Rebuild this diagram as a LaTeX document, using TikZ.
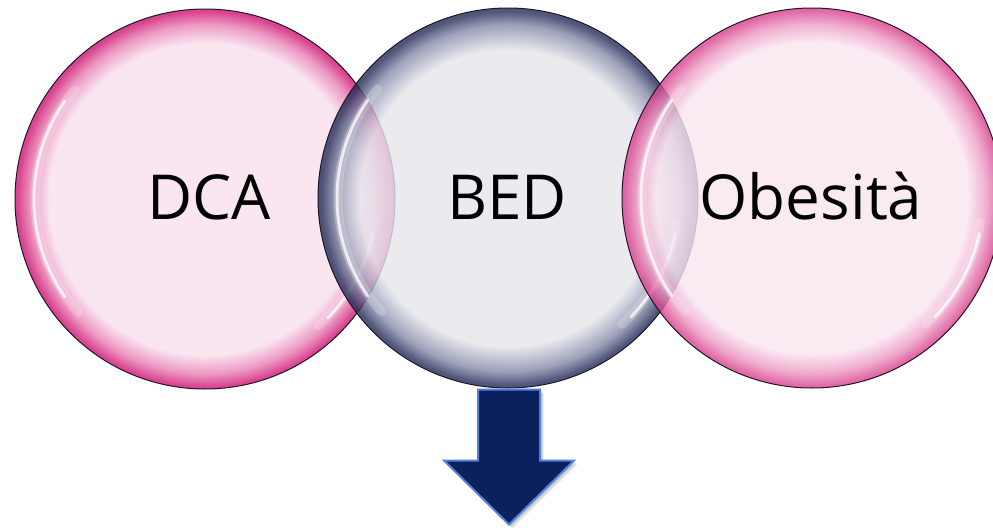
\documentclass[tikz,border=0pt]{standalone}
\usepackage{fontspec}
\setmainfont{Open Sans}
\usetikzlibrary{calc}

\definecolor{pinkin}{HTML}{F9E6F1}
\definecolor{pinkmid}{HTML}{EC98C2}
\definecolor{pinkrim}{HTML}{D9448F}
\definecolor{greyin}{HTML}{E5E5EB}
\definecolor{navymid}{HTML}{858AA8}
\definecolor{navyrim}{HTML}{242C58}
\definecolor{edgeline}{HTML}{1E1428}
\definecolor{arrowfill}{HTML}{0B205D}
\definecolor{arrowline}{HTML}{4F80E0}

% bubble shadings: flat centre, coloured rim
\pgfdeclareradialshading{pinkbubble}{\pgfpoint{0bp}{0bp}}{%
  color(0bp)=(pinkin); color(20.5bp)=(pinkin); color(23bp)=(pinkmid);
  color(24.7bp)=(pinkrim); color(25bp)=(pinkrim); color(50bp)=(pinkrim)}
\pgfdeclareradialshading{navybubble}{\pgfpoint{0bp}{0bp}}{%
  color(0bp)=(greyin); color(19.5bp)=(greyin); color(22.8bp)=(navymid);
  color(24.6bp)=(navyrim); color(25bp)=(navyrim); color(50bp)=(navyrim)}

\tikzset{
  bubble/.style={circle, minimum size=380pt, inner sep=0pt, draw=edgeline,
    line width=1pt, text opacity=1},
  pinkball/.style={bubble, shading=pinkbubble},
  navyball/.style={bubble, shading=navybubble},
  gloss/.style={white, line cap=round},
  label/.style={font=\fontsize{62}{70}\selectfont, anchor=base},
}

% glossy highlights inside a bubble (y axis points down, so angles are mirrored)
\newcommand{\glossarcs}[1]{%
  \draw[gloss, line width=9pt, opacity=0.22] ($(#1.center)+(-140:170)$) arc[start angle=-140, end angle=-222, radius=170];
  \draw[gloss, line width=3pt, opacity=0.75] ($(#1.center)+(-145:171)$) arc[start angle=-145, end angle=-215, radius=171];
  \draw[gloss, line width=9pt, opacity=0.22] ($(#1.center)+(8:170)$) arc[start angle=8, end angle=48, radius=170];
  \draw[gloss, line width=3pt, opacity=0.75] ($(#1.center)+(12:171)$) arc[start angle=12, end angle=44, radius=171];
}

\begin{document}
\begin{tikzpicture}[x=1pt,y=-1pt]
  \useasboundingbox (0,0) rectangle (993,530);
  \fill[white] (0,0) rectangle (993,530);

  % left bubble
  \node[pinkball] (dca) at (205,199) {};
  \glossarcs{dca}

  % middle bubble, partly see-through
  \node[navyball, fill opacity=0.8, draw opacity=1] (bed) at (508,198) {};
  \glossarcs{bed}

  % right bubble, partly see-through
  \node[pinkball, fill opacity=0.8, draw opacity=1] (obe) at (812,198) {};
  \glossarcs{obe}

  % labels
  \node[label] (tdca) at (209,219) {DCA};
  \node[label] (tbed) at (507,219) {BED};
  \node[label] (tobe) at (811,219) {Obesità};

  % block arrow below the middle bubble
  \coordinate (atop) at ($(bed.south)+(1,1)$);
  \foreach \d/\o in {4/0.06,3/0.08,2/0.1}{
    \fill[black, opacity=\o]
      ($(atop)+(-31+\d,\d)$) -- ($(atop)+(31+\d,\d)$) -- ($(atop)+(31+\d,71+\d)$)
      -- ($(atop)+(65+\d,71+\d)$) -- ($(atop)+(0+\d,135+\d)$) -- ($(atop)+(-65+\d,71+\d)$)
      -- ($(atop)+(-31+\d,71+\d)$) -- cycle;
  }
  \draw[fill=arrowfill, draw=arrowline, line width=2pt, line join=miter]
    ($(atop)+(-31,0)$) -- ($(atop)+(31,0)$) -- ($(atop)+(31,71)$)
    -- ($(atop)+(65,71)$) -- ($(atop)+(0,135)$) -- ($(atop)+(-65,71)$)
    -- ($(atop)+(-31,71)$) -- cycle;
\end{tikzpicture}
\end{document}
